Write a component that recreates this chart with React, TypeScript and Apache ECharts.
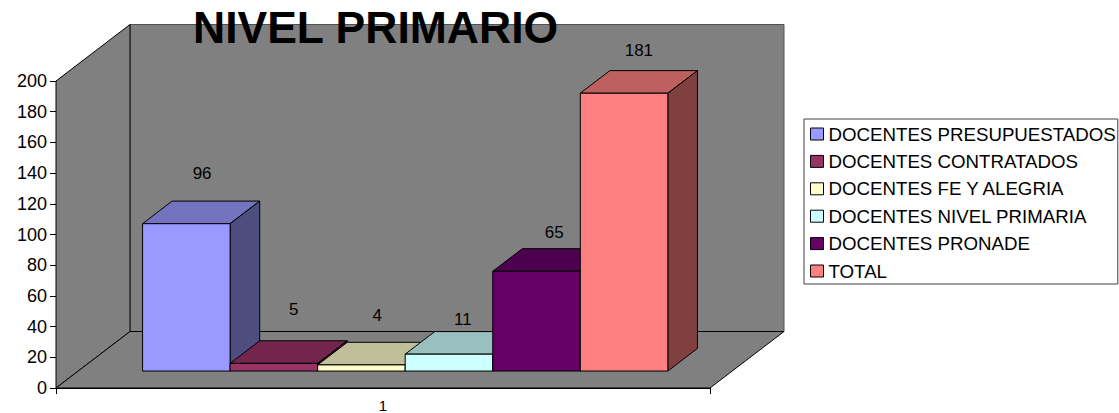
import React, { useEffect, useRef } from "react";
import * as echarts from "echarts";

const titleText = "NIVEL PRIMARIO";
const categories = ["1"];
const seriesNames = [
  "DOCENTES PRESUPUESTADOS",
  "DOCENTES CONTRATADOS",
  "DOCENTES FE Y ALEGRIA",
  "DOCENTES NIVEL PRIMARIA",
  "DOCENTES PRONADE",
  "TOTAL",
];
const seriesValues = [96, 5, 4, 11, 65, 181];
const faceColors = ["#9999FF", "#993366", "#FFFFCC", "#CCFFFF", "#660066", "#FF8080"];
const topColors = ["#7373BF", "#73264D", "#BFBF99", "#99BFBF", "#4D004D", "#BF6060"];
const sideColors = ["#4D4D80", "#4D1A33", "#808066", "#668080", "#330033", "#804040"];
// Excel's hand-placed data label offsets from the back-centre of each bar top
const labelShift = [[1, -28], [5, -31], [1, -27], [-1, -12], [3, -16], [0, -20]];

const WALL_DX = 74;
const WALL_DY = -56.5;
const FLOOR_GAP = 0.3;
const BAR_DEPTH = 0.4;

function poly(points: number[][], fill: string, stroke = "#000", lineWidth = 1) {
  return {
    type: "polygon",
    shape: { points },
    style: { fill, stroke, lineWidth },
  };
}

function renderWalls(_p: any, api: any) {
  const size = api.size([1, 0]);
  const c0 = api.coord([0, 0]);
  const c200 = api.coord([0, 200]);
  const l = c0[0] - size[0] / 2;
  const r = c0[0] + size[0] / 2;
  const b = c0[1];
  const t = c200[1];
  const backLine = "#505050";
  return {
    type: "group",
    children: [
      poly([[l + WALL_DX, t + WALL_DY], [r + WALL_DX, t + WALL_DY], [r + WALL_DX, b + WALL_DY], [l + WALL_DX, b + WALL_DY]], "#808080", backLine),
      poly([[l, t], [l + WALL_DX, t + WALL_DY], [l + WALL_DX, b + WALL_DY], [l, b]], "#808080"),
      poly([[l, b], [l + WALL_DX, b + WALL_DY], [r + WALL_DX, b + WALL_DY], [r, b]], "#808080"),
    ],
  };
}

function makeBar(i: number) {
  return (_p: any, api: any) => {
    const band = api.size([1, 0])[0];
    const w = band / 7.47;
    const c0 = api.coord([0, 0]);
    const cv = api.coord([0, api.value(1)]);
    const gx = WALL_DX * FLOOR_GAP;
    const gy = WALL_DY * FLOOR_GAP;
    const dx = WALL_DX * BAR_DEPTH;
    const dy = WALL_DY * BAR_DEPTH;
    const x0 = c0[0] + gx + (i - 3) * w;
    const x1 = x0 + w;
    const yb = c0[1] + gy;
    const yt = cv[1] + gy;
    return {
      type: "group",
      children: [
        poly([[x0, yt], [x0 + dx, yt + dy], [x1 + dx, yt + dy], [x1, yt]], topColors[i]),
        poly([[x1, yt], [x1 + dx, yt + dy], [x1 + dx, yb + dy], [x1, yb]], sideColors[i]),
        poly([[x0, yt], [x1, yt], [x1, yb], [x0, yb]], faceColors[i]),
        {
          type: "text",
          z2: 50,
          style: {
            x: x0 + w / 2 + dx / 2 + labelShift[i][0],
            y: yt + dy + labelShift[i][1],
            text: String(api.value(1)),
            fill: "#000",
            font: "17px 'Liberation Sans'",
            align: "center",
            verticalAlign: "middle",
          },
        },
      ],
    };
  };
}

export default function App() {
  const ref = useRef<HTMLDivElement>(null);
  useEffect(() => {
    const chart = echarts.init(ref.current!, undefined, { renderer: "svg" });
    chart.setOption({
      animation: false,
      backgroundColor: "#fff",
      textStyle: { fontFamily: "'Liberation Sans'" },
      title: {
        text: titleText,
        left: 193,
        top: 5,
        padding: 0,
        textStyle: { fontFamily: "'Liberation Sans'", fontSize: 44.5, fontWeight: "bold", color: "#000" },
        z: 20,
      },
      grid: { left: 56, top: 81, width: 654, height: 308 },
      xAxis: {
        type: "category",
        data: categories,
        axisLine: { show: true, lineStyle: { color: "#000" } },
        axisTick: { show: true, length: 6, lineStyle: { color: "#000" } },
        axisLabel: { color: "#000", fontSize: 15, margin: 10 },
      },
      yAxis: {
        type: "value",
        min: 0,
        max: 200,
        interval: 20,
        splitLine: { show: false },
        axisLine: { show: true, lineStyle: { color: "#000" } },
        axisTick: { show: true, length: 6, lineStyle: { color: "#000" } },
        axisLabel: { color: "#000", fontSize: 18, margin: 9, padding: [6, 0, 0, 0] },
      },
      legend: {
        left: 804,
        top: 119,
        orient: "vertical",
        align: "left",
        padding: [5, 2, 3, 6],
        itemWidth: 13,
        itemHeight: 12,
        itemGap: 7.4,
        borderColor: "#404040",
        borderWidth: 1,
        selectedMode: false,
        textStyle: { color: "#000", fontSize: 18.7, lineHeight: 20 },
        data: seriesNames.map((name, i) => ({
          name,
          icon: "rect",
          itemStyle: { color: faceColors[i], borderColor: "#000", borderWidth: 1 },
        })),
      },
      series: [
        {
          type: "custom",
          name: "walls",
          z: 1,
          silent: true,
          clip: false,
          renderItem: renderWalls,
          data: [[0, 0]],
          encode: { x: 0, y: 1 },
        },
        ...seriesNames.map((name, i) => ({
          type: "custom",
          name,
          z: 3 + i,
          clip: false,
          renderItem: makeBar(i),
          itemStyle: { color: faceColors[i] },
          data: [[0, seriesValues[i]]],
          encode: { x: 0, y: 1 },
        })),
      ],
    });
    return () => chart.dispose();
  }, []);
  return <div ref={ref} style={{ position: "absolute", left: 0, top: 0, width: 1119, height: 413 }} />;
}
